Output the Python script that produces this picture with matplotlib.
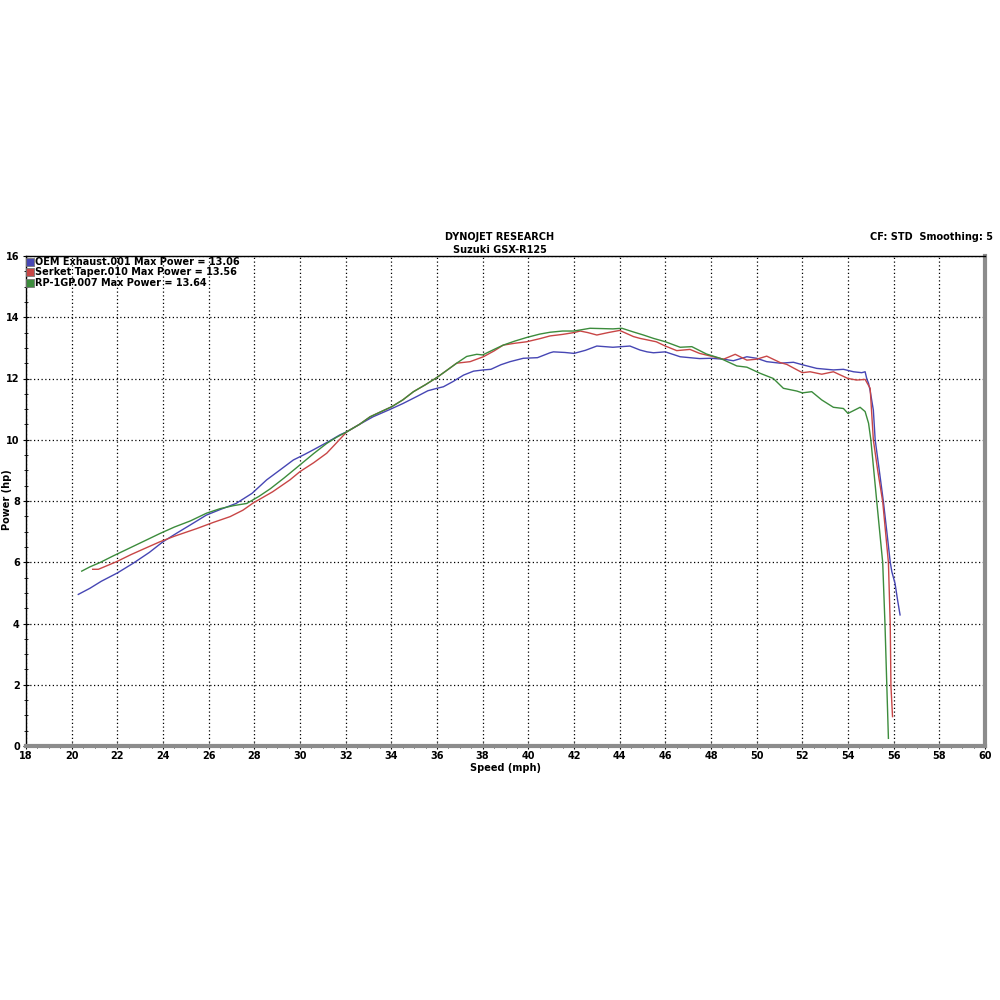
import matplotlib
matplotlib.use("Agg")
import matplotlib.pyplot as plt
from matplotlib.lines import Line2D
from matplotlib.ticker import MultipleLocator

# OEM Exhaust.001 (blue)
oem_x = [20.29, 20.8, 21.3, 22.0, 22.7, 23.4, 24.0, 24.6, 25.2, 25.9, 26.5, 27.2, 27.9, 28.54,
         29.1, 29.71, 30.2, 30.58, 31.2, 31.75, 32.05, 32.6, 33.2, 33.94, 34.5, 35.11, 35.6, 36.0,
         36.28, 36.7, 37.16, 37.6, 38.03, 38.36, 38.8, 39.2, 39.78, 40.4, 40.95, 41.1, 41.6, 42.0,
         42.5, 43.0, 43.7, 44.45, 44.89, 45.2, 45.48, 46.0, 46.65, 47.5, 48.0, 48.55, 48.98, 49.57,
         50.0, 50.44, 51.03, 51.61, 52.0, 52.63, 53.36, 53.8, 54.24, 54.6, 54.75, 54.82, 54.9, 54.97,
         55.11, 55.19, 55.37, 55.55, 55.7, 55.85, 55.92, 56.06, 56.17, 56.28]
oem_hp = [4.95, 5.15, 5.38, 5.65, 5.97, 6.32, 6.67, 6.95, 7.22, 7.54, 7.72, 7.92, 8.25, 8.69,
          9.0, 9.34, 9.52, 9.67, 9.92, 10.16, 10.26, 10.5, 10.75, 10.99, 11.18, 11.41, 11.6, 11.68,
          11.73, 11.9, 12.11, 12.24, 12.28, 12.3, 12.45, 12.55, 12.66, 12.68, 12.84, 12.87, 12.85, 12.82,
          12.92, 13.06, 13.02, 13.06, 12.93, 12.87, 12.84, 12.87, 12.71, 12.65, 12.66, 12.63, 12.58, 12.71,
          12.66, 12.55, 12.5, 12.53, 12.45, 12.33, 12.28, 12.3, 12.22, 12.19, 12.22, 12.0, 11.84, 11.6,
          10.97, 10.0, 9.0, 7.98, 7.0, 6.0, 5.69, 5.31, 4.77, 4.28]

# Serket Taper.010 (red)
serket_x = [20.92, 21.17, 21.97, 22.6, 23.2, 23.87, 24.5, 25.48, 26.2, 26.94, 27.5, 27.96, 28.8,
            29.56, 30.0, 30.6, 31.17, 31.6, 32.05, 32.6, 33.07, 33.5, 34.02, 34.5, 34.97, 35.5, 35.99,
            36.4, 36.86, 37.45, 38.03, 38.5, 38.9, 39.4, 39.93, 40.5, 40.95, 41.5, 42.0, 42.27, 42.6,
            43.0, 43.5, 44.0, 44.6, 44.89, 45.6, 46.0, 46.5, 47.08, 47.5, 48.0, 48.55, 49.06, 49.57,
            50.0, 50.44, 51.03, 51.32, 52.0, 52.34, 52.85, 53.36, 54.0, 54.38, 54.75, 54.97, 55.11,
            55.3, 55.52, 55.77, 55.85, 55.88, 55.95]
serket_hp = [5.77, 5.77, 6.02, 6.25, 6.45, 6.67, 6.85, 7.1, 7.3, 7.49, 7.7, 7.94, 8.3,
             8.69, 8.96, 9.25, 9.56, 9.9, 10.26, 10.5, 10.75, 10.9, 11.08, 11.3, 11.57, 11.8, 12.03,
             12.25, 12.5, 12.55, 12.71, 12.9, 13.09, 13.15, 13.2, 13.3, 13.39, 13.44, 13.5, 13.55, 13.5,
             13.42, 13.5, 13.57, 13.37, 13.31, 13.2, 13.06, 12.91, 12.95, 12.82, 12.73, 12.63, 12.79, 12.6,
             12.63, 12.73, 12.52, 12.46, 12.19, 12.22, 12.14, 12.22, 12.0, 11.95, 11.97, 11.68, 10.0,
             9.0, 7.98, 5.99, 3.97, 1.97, 0.96]

# RP-1GP.007 (green)
rp_x = [20.44, 20.8, 21.24, 21.8, 22.5, 23.2, 23.87, 24.5, 25.2, 25.9, 26.5, 27.1, 27.67, 28.2,
        28.7, 29.3, 30.0, 30.6, 31.17, 31.6, 32.05, 32.6, 33.07, 33.5, 34.02, 34.5, 34.97, 35.5,
        35.99, 36.4, 36.86, 37.3, 37.74, 38.0, 38.5, 38.9, 39.4, 39.93, 40.5, 40.95, 41.5, 42.0,
        42.7, 43.2, 43.7, 44.1, 44.6, 45.04, 45.48, 46.0, 46.65, 47.16, 47.8, 48.4, 49.13, 49.57,
        50.15, 50.73, 51.17, 51.76, 52.0, 52.41, 52.85, 53.36, 53.8, 54.0, 54.53, 54.75, 54.9, 55.0,
        55.26, 55.52, 55.62, 55.7, 55.77]
rp_hp = [5.71, 5.85, 5.99, 6.2, 6.45, 6.7, 6.94, 7.15, 7.35, 7.6, 7.75, 7.85, 7.92, 8.15,
         8.4, 8.75, 9.18, 9.55, 9.88, 10.08, 10.26, 10.5, 10.75, 10.9, 11.08, 11.3, 11.57, 11.8,
         12.03, 12.25, 12.5, 12.72, 12.79, 12.77, 12.95, 13.09, 13.22, 13.34, 13.45, 13.51, 13.55, 13.55,
         13.64, 13.63, 13.62, 13.64, 13.52, 13.42, 13.31, 13.2, 13.02, 13.04, 12.8, 12.66, 12.41, 12.37,
         12.17, 12.0, 11.68, 11.59, 11.53, 11.57, 11.3, 11.06, 11.02, 10.86, 11.06, 10.92, 10.54, 10.0,
         7.98, 5.99, 3.97, 1.97, 0.25]

labels = ["OEM Exhaust.001 Max Power = 13.06",
          "Serket Taper.010 Max Power = 13.56",
          "RP-1GP.007 Max Power = 13.64"]
colors = ["#4646b4", "#c84646", "#3c8c3c"]

plt.rcParams['font.family'] = ['DejaVu Sans']

fig = plt.figure(figsize=(10, 10), dpi=100)
ax = fig.add_axes([0.026, 0.254, 0.959, 0.49])

ax.plot(oem_x, oem_hp, color=colors[0], lw=1.0)
ax.plot(serket_x, serket_hp, color=colors[1], lw=1.0)
ax.plot(rp_x, rp_hp, color=colors[2], lw=1.0)

ax.set_xlim(18, 60)
ax.set_ylim(0, 16)
ax.xaxis.set_major_locator(MultipleLocator(2))
ax.xaxis.set_minor_locator(MultipleLocator(0.5))
ax.yaxis.set_major_locator(MultipleLocator(2))
ax.yaxis.set_minor_locator(MultipleLocator(0.5))
ax.grid(True, which='major', color='black', linestyle=(0, (1, 2)), linewidth=0.9)
ax.tick_params(which='both', direction='inout', color='black', labelsize=7)
ax.tick_params(which='major', length=5, pad=2)
ax.tick_params(axis='x', which='major', pad=1)
ax.tick_params(which='minor', length=3)
for t in ax.get_xticklabels() + ax.get_yticklabels():
    t.set_fontweight('bold')

ax.spines['left'].set_color('black')
ax.spines['left'].set_linewidth(1)
ax.spines['top'].set_color('black')
ax.spines['top'].set_linewidth(1)
ax.spines['bottom'].set_color('#8c8c8c')
ax.spines['bottom'].set_linewidth(3)
ax.spines['right'].set_color('#8c8c8c')
ax.spines['right'].set_linewidth(3)

# axis titles placed as in the dyno printout
fig.text(0.505, 0.232, "Speed (mph)", ha='center', va='center', fontsize=7, fontweight='bold')
fig.text(0.007, 0.5, "Power (hp)", ha='center', va='center', rotation=90, fontsize=7,
         fontweight='bold')

fig.text(0.5, 0.763, "DYNOJET RESEARCH", ha='center', va='center', fontsize=7, fontweight='bold')
fig.text(0.5, 0.750, "Suzuki GSX-R125", ha='center', va='center', fontsize=7, fontweight='bold')
fig.text(0.993, 0.763, "CF: STD  Smoothing: 5", ha='right', va='center', fontsize=7, fontweight='bold')

handles = [Line2D([], [], linestyle='none', marker='s', markersize=6,
                  markerfacecolor=c, markeredgecolor='#777777', markeredgewidth=0.6) for c in colors]
leg = ax.legend(handles, labels, loc='upper left', frameon=False, handlelength=0.6,
                handletextpad=0.2, borderaxespad=0.05, borderpad=0.05, labelspacing=0.05,
                prop={'size': 7, 'weight': 'bold'})

fig.savefig("out.png", dpi=100, facecolor='white')
